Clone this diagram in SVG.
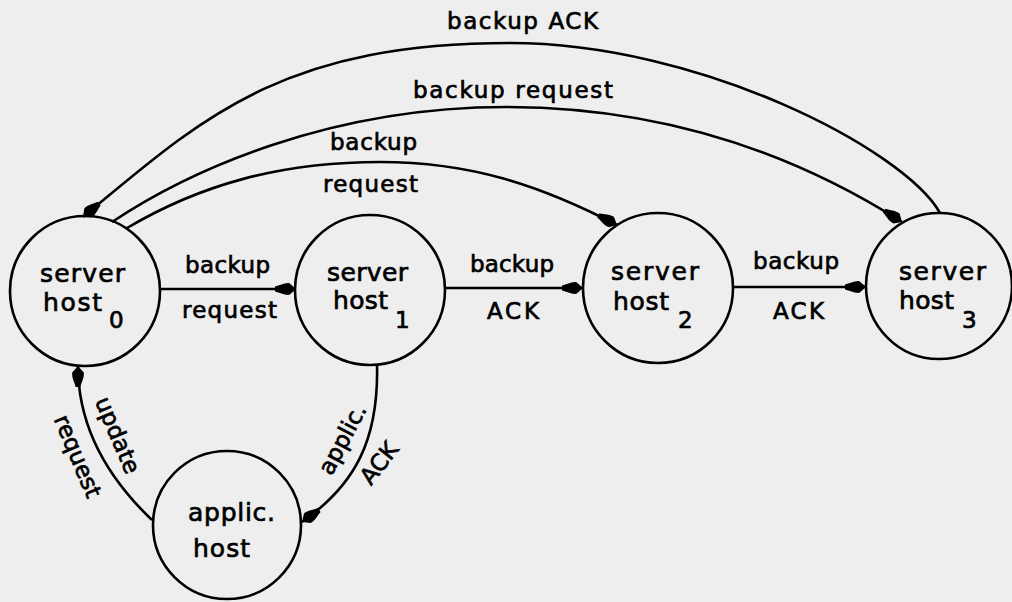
<svg xmlns="http://www.w3.org/2000/svg" width="1012" height="602" viewBox="0 0 1012 602">
<style>
.bg{fill:#eeeeee}
.node{fill:none;stroke:#000;stroke-width:2.6}
.edge{fill:none;stroke:#000;stroke-width:2.6;marker-end:url(#ah)}
text{font-family:"DejaVu Sans","Liberation Sans",sans-serif;fill:#000;stroke:#000;stroke-width:0.7}
.nl{font-size:25px}
.sub{font-size:23px}
.el{font-size:23px}
.rl{font-size:23px;text-anchor:middle}
</style>
<defs>
<marker id="ah" viewBox="-22 -7 24 14" refX="0" refY="0" markerWidth="24" markerHeight="14" markerUnits="userSpaceOnUse" orient="auto">
<path d="M-21,-2.4 C-16,-3.4 -12,-6.4 -6.5,-5.8 L0,0 L-6.5,5.8 C-12,6.4 -16,3.4 -21,2.4 Z" fill="#000"/>
</marker>
</defs>
<rect class="bg" x="0" y="0" width="1012" height="602"/>
<g id="connectors">
<path class="edge" d="M160,289 L296,289"/>
<path class="edge" d="M445,288 L583,288"/>
<path class="edge" d="M733,287 L866,287"/>
<path class="edge" d="M940,213 C905,150 700,43 510,43 C280,43 200,120 83,217"/>
<path class="edge" d="M112,222 C190,170 330,107 506,107 C690,107 820,170 902,222"/>
<path class="edge" d="M127,228 C200,185 280,162 380,162 C470,162 540,185 617,225"/>
<path class="edge" d="M152,520 C110,480 78,430 78,366"/>
<path class="edge" d="M377,364 C379,440 355,485 302,522"/>
<text class="el" x="447" y="29" textLength="151" lengthAdjust="spacing">backup ACK</text>
<text class="el" x="413" y="98" textLength="200" lengthAdjust="spacing">backup request</text>
<text class="el" x="330" y="150" textLength="87" lengthAdjust="spacing">backup</text>
<text class="el" x="323" y="192" textLength="95" lengthAdjust="spacing">request</text>
<text class="el" x="185" y="273" textLength="85" lengthAdjust="spacing">backup</text>
<text class="el" x="182" y="318" textLength="95" lengthAdjust="spacing">request</text>
<text class="el" x="470" y="272" textLength="84" lengthAdjust="spacing">backup</text>
<text class="el" x="487" y="319" textLength="52" lengthAdjust="spacing">ACK</text>
<text class="el" x="753" y="269" textLength="86" lengthAdjust="spacing">backup</text>
<text class="el" x="773" y="319" textLength="51" lengthAdjust="spacing">ACK</text>
<text class="rl" transform="translate(116,436) rotate(67)" x="0" y="6">update</text>
<text class="rl" transform="translate(76,457) rotate(67)" x="0" y="6">request</text>
<text class="rl" transform="translate(344,440) rotate(-62)" x="0" y="6">applic.</text>
<text class="rl" transform="translate(379,463) rotate(-52)" x="0" y="8">ACK</text>
</g>
<g id="host0">
<circle class="node" cx="85" cy="291" r="75"/>
<text class="nl" x="40" y="282" textLength="85" lengthAdjust="spacing">server</text>
<text class="nl" x="43" y="311" textLength="59" lengthAdjust="spacing">host</text>
<text class="sub" x="109" y="328">0</text>
</g>
<g id="host1">
<circle class="node" cx="370" cy="290" r="75"/>
<text class="nl" x="327" y="281" textLength="81" lengthAdjust="spacing">server</text>
<text class="nl" x="333" y="309" textLength="55" lengthAdjust="spacing">host</text>
<text class="sub" x="395" y="328">1</text>
</g>
<g id="host2">
<circle class="node" cx="658" cy="288" r="75"/>
<text class="nl" x="611" y="280" textLength="88" lengthAdjust="spacing">server</text>
<text class="nl" x="613" y="310" textLength="56" lengthAdjust="spacing">host</text>
<text class="sub" x="678" y="328">2</text>
</g>
<g id="host3">
<circle class="node" cx="939" cy="286" r="73"/>
<text class="nl" x="899" y="280" textLength="87" lengthAdjust="spacing">server</text>
<text class="nl" x="899" y="309" textLength="55" lengthAdjust="spacing">host</text>
<text class="sub" x="962" y="328">3</text>
</g>
<g id="applic">
<circle class="node" cx="227" cy="525" r="74"/>
<text class="nl" x="188" y="521" textLength="87" lengthAdjust="spacing">applic.</text>
<text class="nl" x="193" y="557" textLength="57" lengthAdjust="spacing">host</text>
</g>
</svg>
